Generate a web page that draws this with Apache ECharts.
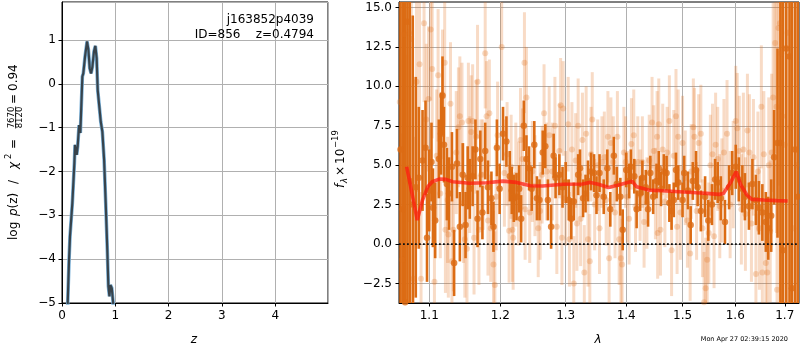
<!DOCTYPE html>
<html>
<head>
<meta charset="utf-8">
<script src="https://cdn.jsdelivr.net/npm/echarts@6/dist/echarts.min.js"></script>
<style>
html, body { margin: 0; padding: 0; background: #fff; }
#chart { width: 800px; height: 350px; }
</style>
</head>
<body>
<div id="chart"></div>
<script>
"use strict";

// p(z) curve, left panel
var pzZ = [0.100, 0.107, 0.132, 0.150, 0.194, 0.232, 0.244, 0.276, 0.294, 0.320, 0.344, 0.382, 0.400, 0.432, 0.470,
    0.495, 0.520, 0.545, 0.570, 0.600, 0.626, 0.650, 0.670, 0.700, 0.727, 0.757, 0.790, 0.820, 0.850, 0.870,
    0.890, 0.908, 0.934, 0.960, 0.970];
var pzLog = [-6.0, -5.0, -4.02, -3.48, -2.72, -1.81, -1.39, -1.62, -1.43, -0.94, -1.12, 0.17, 0.24, 0.62, 0.97,
    0.78, 0.36, 0.24, 0.39, 0.74, 0.87, 0.59, -0.14, -0.52, -0.86, -1.09, -1.73, -2.72, -3.79, -4.62,
    -4.85, -4.59, -4.66, -5.0, -6.0];

// best-fit model, right panel
var modelWave = [1.070, 1.077, 1.084, 1.091, 1.098, 1.104, 1.1135, 1.1226, 1.132, 1.156, 1.180, 1.204, 1.224, 1.245,
    1.264, 1.296, 1.327, 1.340, 1.353, 1.370, 1.387, 1.401, 1.410, 1.418, 1.439, 1.463, 1.494, 1.526, 1.545,
    1.568, 1.577, 1.590, 1.602, 1.611, 1.623, 1.633, 1.657, 1.684, 1.706];
var modelFlux = [4.90, 3.21, 1.52, 2.79, 3.63, 3.95, 4.12, 4.10, 3.95, 3.85, 3.89, 3.99, 3.91, 3.70,
    3.68, 3.79, 3.81, 3.91, 3.79, 3.59, 3.74, 3.89, 3.99, 3.63, 3.42, 3.38, 3.32, 3.25, 3.21,
    3.15, 3.21, 3.85, 4.59, 3.74, 3.11, 2.83, 2.79, 2.75, 2.73];

// spectrum with errors (dark)
var darkWave = [1.062, 1.065, 1.068, 1.071, 1.074, 1.078, 1.082, 1.086, 1.091, 1.095, 1.097, 1.100, 1.103, 1.105,
    1.108, 1.113, 1.116, 1.118, 1.120, 1.124, 1.127, 1.131, 1.134, 1.138, 1.142, 1.146, 1.150, 1.153, 1.156,
    1.160, 1.164, 1.167, 1.171, 1.174, 1.178, 1.182, 1.187, 1.190, 1.195, 1.199, 1.204, 1.209, 1.214, 1.217,
    1.220, 1.224, 1.228, 1.231, 1.235, 1.239, 1.243, 1.247, 1.251, 1.255, 1.259, 1.264, 1.268, 1.272, 1.277,
    1.281, 1.284, 1.290, 1.295, 1.300, 1.305, 1.309, 1.313, 1.320, 1.323, 1.328, 1.332, 1.336, 1.341, 1.346,
    1.350, 1.355, 1.362, 1.368, 1.373, 1.379, 1.384, 1.390, 1.394, 1.400, 1.405, 1.408, 1.414, 1.418, 1.424,
    1.428, 1.434, 1.438, 1.442, 1.447, 1.453, 1.457, 1.461, 1.466, 1.471, 1.476, 1.480, 1.484, 1.488, 1.492,
    1.500, 1.503, 1.510, 1.515, 1.519, 1.525, 1.528, 1.534, 1.542, 1.548, 1.555, 1.561, 1.566, 1.572, 1.580,
    1.588, 1.594, 1.601, 1.607, 1.614, 1.619, 1.627, 1.634, 1.641, 1.647, 1.654, 1.661, 1.666, 1.672, 1.678,
    1.685, 1.691, 1.696, 1.703, 1.710, 1.715, 1.722, 1.728];
var darkFlux = [6.0, 2.2, -3.7, 14.1, 4.0, 2.5, 3.6, 4.2, 5.3, 6.1, 0.4, 3.4, 5.2, 2.3,
    1.5, 5.4, 7.0, 9.4, 6.3, 3.8, 3.2, 4.9, -1.2, 5.1, 1.1, 4.4, 1.2, 4.2, 3.5,
    4.3, 6.0, 1.6, 5.4, 2.0, 5.9, 3.6, 2.9, 1.1, 6.1, 3.5, 7.0, 6.5, 4.3, 3.4,
    2.9, 3.0, 3.5, 1.6, 7.5, 5.4, 4.8, 3.5, 6.3, 2.9, 2.8, 5.8, 6.2, 2.8, 1.1,
    5.6, 4.2, 4.4, 3.6, 3.9, 2.8, 1.6, 2.7, 4.4, 4.8, 2.9, 3.2, 4.0, 4.6, 4.5,
    3.1, 4.5, 3.0, 4.8, 2.2, 5.6, 3.8, 3.0, 0.9, 4.7, 4.0, 4.9, 4.3, 2.2, 3.2,
    4.2, 3.6, 2.2, 4.5, 3.0, 4.0, 4.8, 3.5, 4.6, 4.5, 2.6, 2.1, 2.8, 4.7, 3.9,
    2.8, 4.5, 3.4, 1.2, 4.0, 4.7, 3.6, 2.1, 3.0, 1.5, 2.5, 4.1, 3.9, 2.9, 1.4,
    3.6, 4.5, 4.9, 4.1, 3.5, 3.0, 2.4, 3.8, 2.8, 2.3, 2.0, 1.4, 1.0, 1.8, 5.5,
    6.4, 6.4, -0.4, 12.4, 11.9, -2.8, 6.0, 3.0];
var darkErr = [25, 25, 25, 25, 25, 12, 7, 4.5, 3.2, 3.0, 2.8, 2.6, 2.5, 2.5,
    2.4, 2.5, 2.6, 2.5, 2.4, 2.3, 2.3, 2.2, 2.1, 2.2, 2.2, 2.0, 2.1, 2.0, 1.9,
    1.9, 1.9, 1.8, 1.8, 1.7, 1.8, 1.7, 1.7, 1.6, 1.8, 1.6, 1.7, 1.6, 1.6, 1.5,
    1.5, 1.5, 1.5, 1.5, 1.6, 1.5, 1.4, 1.4, 1.5, 1.4, 1.3, 1.4, 1.4, 1.3, 1.4,
    1.4, 1.3, 1.3, 1.3, 1.3, 1.3, 1.3, 1.2, 1.3, 1.2, 1.2, 1.2, 1.3, 1.2, 1.2,
    1.2, 1.2, 1.1, 1.2, 1.1, 1.2, 1.1, 1.2, 1.3, 1.1, 1.1, 1.1, 1.1, 1.2, 1.1,
    1.1, 1.1, 1.1, 1.1, 1.1, 1.1, 1.1, 1.1, 1.1, 1.1, 1.2, 1.2, 1.1, 1.1, 1.1,
    1.1, 1.1, 1.2, 1.2, 1.2, 1.2, 1.2, 1.3, 1.3, 1.3, 1.3, 1.3, 1.3, 1.4, 1.4,
    1.4, 1.4, 1.4, 1.4, 1.5, 1.5, 1.5, 1.6, 1.6, 1.7, 1.8, 1.9, 2.0, 2.3, 3.0,
    6, 25, 25, 25, 25, 25, 25, 25];

// second spectrum with errors (light)
var lightWave = [1.061, 1.064, 1.067, 1.070, 1.073, 1.076, 1.079, 1.083, 1.087, 1.089, 1.093, 1.096, 1.099, 1.102,
    1.104, 1.107, 1.110, 1.112, 1.115, 1.118, 1.121, 1.122, 1.125, 1.126, 1.129, 1.131, 1.133, 1.137, 1.140,
    1.142, 1.145, 1.147, 1.149, 1.152, 1.154, 1.156, 1.158, 1.160, 1.162, 1.165, 1.167, 1.169, 1.172, 1.175,
    1.178, 1.180, 1.182, 1.184, 1.186, 1.190, 1.192, 1.194, 1.196, 1.202, 1.206, 1.210, 1.213, 1.216, 1.218,
    1.219, 1.223, 1.227, 1.230, 1.233, 1.236, 1.237, 1.239, 1.244, 1.248, 1.252, 1.257, 1.260, 1.263, 1.266,
    1.270, 1.274, 1.279, 1.283, 1.286, 1.290, 1.292, 1.294, 1.296, 1.300, 1.304, 1.306, 1.310, 1.313, 1.316,
    1.318, 1.320, 1.324, 1.327, 1.330, 1.333, 1.336, 1.339, 1.341, 1.343, 1.347, 1.352, 1.355, 1.359, 1.363,
    1.366, 1.369, 1.371, 1.374, 1.378, 1.381, 1.385, 1.388, 1.391, 1.393, 1.396, 1.399, 1.402, 1.405, 1.409,
    1.413, 1.416, 1.420, 1.424, 1.428, 1.431, 1.436, 1.440, 1.445, 1.448, 1.451, 1.454, 1.455, 1.457, 1.460,
    1.464, 1.468, 1.472, 1.476, 1.480, 1.484, 1.488, 1.490, 1.492, 1.496, 1.500, 1.505, 1.509, 1.514, 1.516,
    1.520, 1.522, 1.526, 1.530, 1.534, 1.537, 1.540, 1.543, 1.546, 1.549, 1.552, 1.556, 1.559, 1.562, 1.566,
    1.570, 1.574, 1.578, 1.584, 1.590, 1.596, 1.601, 1.604, 1.608, 1.612, 1.616, 1.620, 1.624, 1.628, 1.632,
    1.636, 1.641, 1.645, 1.648, 1.652, 1.654, 1.657, 1.661, 1.664, 1.667, 1.670, 1.673, 1.676, 1.680, 1.683,
    1.684, 1.687, 1.690, 1.693, 1.695, 1.700, 1.706, 1.712, 1.718, 1.725];
var lightFlux = [9.0, -1.0, 13.3, 4.0, 13.4, 13.0, -2.2, 10.3, 11.4, -2.2, 14.0, 7.9, 9.2, 13.6,
    11.1, -2.4, 5.6, 10.7, 3.2, 9.5, 11.5, 0.9, 2.8, 0.6, 8.9, -1.1, 0.9, 5.8, 7.4,
    8.1, 7.7, 2.6, 0.3, -0.3, 7.8, 4.4, 7.1, 7.8, 0.4, 6.8, 10.3, 0.9, 4.4, 4.4,
    12.1, 8.1, 1.5, 8.3, 1.0, -1.3, -2.6, 3.0, 6.9, 12.5, 4.5, 5.7, 0.85, 4.9, 0.9,
    0.4, 4.4, 3.2, 6.6, 5.4, 11.5, 2.2, 9.3, 2.0, 4.6, 3.7, 1.0, 2.1, 4.4, 8.3,
    4.6, 6.9, 4.6, 7.5, 1.1, 5.9, 8.8, 0.4, 8.6, 2.9, 7.6, 0.3, 6.0, -2.5, 5.3,
    1.3, 7.5, 1.6, 6.6, -1.8, 7.0, 0.3, -1.1, 5.7, 7.9, 2.5, 5.0, 1.0, 5.2, 5.5,
    2.8, 6.8, -0.9, 6.4, 5.2, 2.0, 6.8, 0.3, -0.9, -1.3, 5.8, 5.2, 3.0, 1.6, 6.35,
    6.9, 2.4, 5.2, 3.1, 5.2, 1.4, 2.6, 5.3, 7.7, 5.9, 3.2, 6.8, 0.7, 7.6, 0.9,
    6.0, 2.7, 5.8, 7.8, -0.4, 5.6, 8.1, 1.1, 6.8, 2.0, 6.4, 4.2, 1.5, -0.6, 4.6,
    7.4, 6.8, 2.1, 6.4, 7.0, 1.0, -3.7, -2.8, -1.0, 0.7, 5.0, 5.7, 0.5, 6.3, 5.4,
    2.4, 3.4, 5.8, 7.0, 2.5, 4.4, 7.8, 7.35, 5.9, 2.2, 6.0, 1.9, 7.2, 5.8, 1.3,
    5.5, -1.9, 4.6, 1.0, 8.7, -1.8, 5.7, -1.2, -1.8, 5.0, 0.8, 5.8, 9.3, 12.75, 8.7,
    -2.9, 13.7, 14.0, 12.1, 8.1, 6.3, 13.4, 7.4, 1.0, 5.0];
var lightErr = [9, 8, 9, 8, 12, 10, 9, 7, 6, 5.5, 5, 4.8, 4.6, 4.5,
    4.4, 4.3, 4.2, 4.2, 4.1, 4.1, 4.0, 4.0, 4.0, 4.0, 3.9, 3.9, 3.9, 3.9, 3.8,
    3.8, 3.8, 3.8, 3.7, 3.7, 3.7, 3.7, 3.6, 3.6, 3.6, 3.6, 3.6, 3.5, 3.5, 3.5,
    3.5, 3.5, 3.5, 3.4, 3.4, 3.4, 3.4, 3.4, 3.4, 3.4, 3.4, 3.3, 3.3, 3.3, 3.3,
    3.3, 3.3, 3.3, 3.3, 3.2, 3.2, 3.2, 3.2, 3.2, 3.2, 3.2, 3.1, 3.1, 3.1, 3.1,
    3.1, 3.1, 3.1, 3.1, 3.0, 3.0, 3.0, 3.0, 3.0, 3.0, 3.0, 3.0, 3.0, 3.0, 3.0,
    3.0, 3.0, 3.0, 3.0, 3.0, 3.0, 3.0, 3.0, 3.0, 3.0, 2.9, 2.9, 2.9, 2.9, 2.9,
    2.9, 2.9, 2.9, 2.9, 2.9, 2.9, 2.9, 2.9, 2.9, 2.9, 2.9, 2.9, 2.9, 2.9, 2.9,
    2.9, 2.9, 2.9, 2.9, 2.9, 2.9, 2.9, 2.9, 2.9, 2.9, 2.9, 2.9, 2.9, 2.9, 2.9,
    2.9, 2.9, 2.9, 2.9, 2.9, 2.9, 3.0, 3.0, 3.0, 3.0, 3.0, 3.0, 3.0, 3.0, 3.0,
    3.1, 3.1, 3.1, 3.1, 3.1, 3.1, 3.2, 3.2, 3.2, 3.2, 3.2, 3.2, 3.3, 3.3, 3.3,
    3.3, 3.3, 3.4, 3.4, 3.4, 3.4, 3.5, 3.5, 3.5, 3.5, 3.6, 3.6, 3.6, 3.7, 3.7,
    3.7, 3.8, 3.8, 3.9, 3.9, 4.0, 4.0, 4.1, 4.2, 4.3, 4.5, 5, 6, 7, 8,
    8, 10, 25, 25, 25, 25, 25, 25, 25, 25];

var zTicks = [0, 1, 2, 3, 4];
var logpTicks = [-5, -4, -3, -2, -1, 0, 1];
var waveTicks = [1.1, 1.2, 1.3, 1.4, 1.5, 1.6, 1.7];
var fluxTicks = [-2.5, 0, 2.5, 5, 7.5, 10, 12.5, 15];

var waveMin = 1.060, waveMax = 1.7299;

var font = 'DejaVu Sans';
var darkColor = '#dc6c14';
var lightBar = 'rgba(226,112,28,0.25)';
var lightDot = 'rgba(226,112,28,0.32)';

function minus(v) {
    return String(v).replace('-', '\u2212');
}

function points(xs, ys, logx) {
    return xs.map(function (x, i) { return [logx ? Math.log(x) : x, ys[i]]; });
}

function ranges(w, f, e) {
    return w.map(function (x, i) { return [Math.log(x), f[i] - e[i], f[i] + e[i]]; });
}

function errBar(width, color) {
    return function (params, api) {
        var top = api.coord([api.value(0), api.value(2)]);
        var bot = api.coord([api.value(0), api.value(1)]);
        var cs = params.coordSys;
        var rect = echarts.graphic.clipRectByRect(
            { x: top[0] - width / 2, y: top[1], width: width, height: bot[1] - top[1] },
            { x: cs.x, y: cs.y, width: cs.width, height: cs.height });
        if (!rect) return null;
        return { type: 'rect', shape: rect, style: { fill: color } };
    };
}

function vtext(x, y, text, size, opts) {
    opts = opts || {};
    return {
        type: 'text', x: x, y: y, rotation: Math.PI / 2, z: 100,
        style: {
            text: text, fill: '#000', fontSize: size, fontFamily: font,
            fontStyle: opts.italic ? 'italic' : 'normal',
            align: opts.align || 'left', textAlign: opts.align || 'left',
            verticalAlign: 'middle', textVerticalAlign: 'middle'
        }
    };
}

function htext(x, y, text, size, opts) {
    opts = opts || {};
    return {
        type: 'text', x: x, y: y, z: 100,
        style: {
            text: text, fill: '#000', fontSize: size, fontFamily: font,
            fontStyle: opts.italic ? 'italic' : 'normal',
            align: opts.align || 'center', textAlign: opts.align || 'center',
            verticalAlign: 'middle', textVerticalAlign: 'middle'
        }
    };
}

var tickStyle = { show: true, length: 3.5, lineStyle: { color: '#000', width: 1 } };
var lineStyle = { show: true, onZero: false, lineStyle: { color: '#000', width: 1 } };
var gridLine = { show: true, lineStyle: { color: '#b0b0b0', width: 1 } };
var labelStyle = { color: '#000', fontSize: 12, fontFamily: font };

var chart = echarts.init(document.getElementById('chart'));

chart.setOption({
    animation: false,
    backgroundColor: '#fff',
    grid: [
        { left: 62, top: 2, width: 266, height: 301, show: true, borderColor: '#000', borderWidth: 1, backgroundColor: 'transparent' },
        { left: 399, top: 2, width: 400, height: 301, show: true, borderColor: '#000', borderWidth: 1, backgroundColor: 'transparent' }
    ],
    xAxis: [
        {
            gridIndex: 0, type: 'value', min: 0, max: 4.99, interval: 1,
            axisLine: lineStyle, axisTick: tickStyle, splitLine: gridLine,
            axisLabel: Object.assign({ margin: 7, showMaxLabel: false, formatter: minus }, labelStyle)
        },
        {
            gridIndex: 1, type: 'value', min: Math.log(waveMin), max: Math.log(waveMax),
            axisLine: lineStyle,
            axisTick: Object.assign({ customValues: waveTicks.map(Math.log) }, tickStyle),
            splitLine: gridLine,
            axisLabel: Object.assign({
                margin: 7,
                customValues: waveTicks.map(Math.log),
                formatter: function (v) { return Math.exp(v).toFixed(1); }
            }, labelStyle)
        }
    ],
    yAxis: [
        {
            gridIndex: 0, type: 'value', min: -5, max: 1.87, interval: 1,
            axisLine: lineStyle, axisTick: tickStyle, splitLine: gridLine,
            axisLabel: Object.assign({ margin: 6, showMaxLabel: false, formatter: minus }, labelStyle)
        },
        {
            gridIndex: 1, type: 'value', min: -3.74, max: 15.35,
            axisLine: lineStyle,
            axisTick: Object.assign({ customValues: fluxTicks }, tickStyle),
            splitLine: gridLine,
            axisLabel: Object.assign({
                margin: 7,
                customValues: fluxTicks,
                formatter: function (v) { return minus(v.toFixed(1)); }
            }, labelStyle)
        }
    ],
    series: [
        {
            type: 'line', xAxisIndex: 0, yAxisIndex: 0, data: points(pzZ, pzLog, false),
            symbol: 'none', lineStyle: { color: 'rgb(120,175,215)', width: 3.6 }
        },
        {
            type: 'line', xAxisIndex: 0, yAxisIndex: 0, data: points(pzZ, pzLog, false),
            symbol: 'none', lineStyle: { color: 'rgba(40,40,40,0.8)', width: 2.2 }
        },
        {
            type: 'custom', xAxisIndex: 1, yAxisIndex: 1,
            data: ranges(lightWave, lightFlux, lightErr),
            renderItem: errBar(3, lightBar)
        },
        {
            type: 'scatter', xAxisIndex: 1, yAxisIndex: 1,
            data: points(lightWave, lightFlux, true),
            symbolSize: 6, itemStyle: { color: lightDot }
        },
        {
            type: 'custom', xAxisIndex: 1, yAxisIndex: 1,
            data: ranges(darkWave, darkFlux, darkErr),
            renderItem: errBar(2.6, darkColor)
        },
        {
            type: 'scatter', xAxisIndex: 1, yAxisIndex: 1,
            data: points(darkWave, darkFlux, true),
            symbolSize: 6.5, itemStyle: { color: darkColor }
        },
        {
            type: 'line', xAxisIndex: 1, yAxisIndex: 1,
            data: points(modelWave, modelFlux, true),
            symbol: 'none', lineStyle: { color: 'rgba(255,25,15,0.72)', width: 3.6 }
        },
        {
            type: 'line', xAxisIndex: 1, yAxisIndex: 1,
            data: [[Math.log(waveMin), 0], [Math.log(waveMax), 0]],
            symbol: 'none', lineStyle: { color: '#111', width: 1.8, type: [1.8, 2.2] }
        }
    ],
    graphic: [
        htext(314, 20, 'j163852p4039', 12, { align: 'right' }),
        htext(314, 35, 'ID=856    z=0.4794', 12, { align: 'right' }),
        htext(194, 340, 'z', 12, { italic: true }),
        htext(598, 340, '\u03bb', 12, { italic: true }),
        htext(788, 339, 'Mon Apr 27 02:39:15 2020', 6.5, { align: 'right' }),

        // left y title: log p(z) / chi^2 = 7670/8120 = 0.94
        vtext(13.5, 240, 'log', 12),
        vtext(13.5, 216, 'p', 12, { italic: true }),
        vtext(13.5, 208.5, '(z)', 12),
        vtext(13.5, 184, '/', 12),
        vtext(13.5, 169, '\u03c7', 12, { italic: true }),
        vtext(9, 159, '2', 8.5),
        vtext(14, 149, '=', 12),
        vtext(12, 117.5, '7670', 8.5, { align: 'center' }),
        {
            type: 'line', z: 100,
            shape: { x1: 15.6, y1: 106.5, x2: 15.6, y2: 128.5 },
            style: { stroke: '#000', lineWidth: 0.8 }
        },
        vtext(19.5, 117.5, '8120', 8.5, { align: 'center' }),
        vtext(14, 104, '=', 12),
        vtext(13.5, 91, '0.94', 12),

        // right y title: f_lambda x 10^-19
        vtext(341, 188, 'f', 12, { italic: true }),
        vtext(345, 183, '\u03bb', 8.5, { italic: true }),
        vtext(341, 176, '\u00d7', 12),
        vtext(341, 164, '10', 12),
        vtext(335.5, 148, '\u221219', 8.5)
    ]
});
</script>
</body>
</html>
